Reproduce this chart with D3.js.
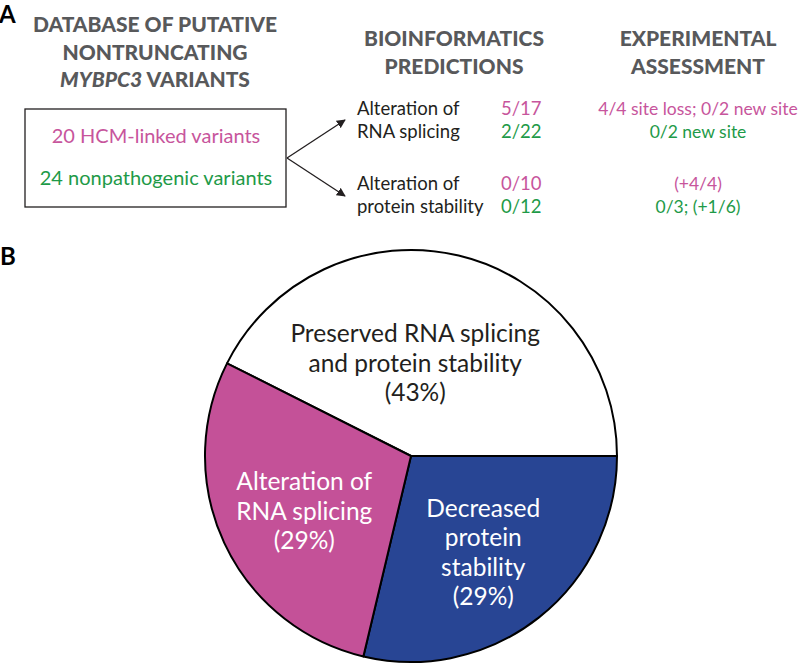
<!DOCTYPE html>
<html>
<head>
<meta charset="utf-8">
<script src="https://cdn.jsdelivr.net/npm/d3@7"></script>
<style>
  body { margin: 0; background: #fff; }
  text { font-family: Lato, "Open Sans", sans-serif; }
</style>
</head>
<body>
<div id="chart"></div>
<script>
// panel A text
var dbHeader = ["DATABASE OF PUTATIVE", "NONTRUNCATING", "MYBPC3| VARIANTS"];
var predHeader = ["BIOINFORMATICS", "PREDICTIONS"];
var expHeader = ["EXPERIMENTAL", "ASSESSMENT"];
var groups = ["20 HCM-linked variants", "24 nonpathogenic variants"];
var predictions = [["Alteration of", "RNA splicing"], ["Alteration of", "protein stability"]];
var hcmPredicted = ["5/17", "0/10"];
var nonpathPredicted = ["2/22", "0/12"];
var hcmExperimental = ["4/4 site loss; 0/2 new site", "(+4/4)"];
var nonpathExperimental = ["0/2 new site", "0/3; (+1/6)"];

// panel B pie
var pieCategories = [
  ["Preserved RNA splicing", "and protein stability"],
  ["Decreased", "protein", "stability"],
  ["Alteration of", "RNA splicing"]
];
var pieValues = [43, 29, 29];
var pieColors = ["#ffffff", "#284594", "#c45198"];
var pieTextColors = ["#231f20", "#ffffff", "#ffffff"];

var width = 799, height = 666;
var pink = "#c7559c", green = "#1e9a48", grey = "#58595b", ink = "#231f20";

var svg = d3.select("#chart").append("svg")
  .attr("width", width)
  .attr("height", height);

svg.append("defs").append("marker")
  .attr("id", "arrow")
  .attr("viewBox", "0 0 10 10")
  .attr("refX", 9).attr("refY", 5)
  .attr("markerWidth", 9).attr("markerHeight", 9)
  .attr("markerUnits", "userSpaceOnUse")
  .attr("orient", "auto")
  .append("path")
  .attr("d", "M0,0 L10,5 L0,10 z")
  .attr("fill", ink);

// panel letters
svg.append("text").attr("x", -1).attr("y", 23)
  .attr("font-family", "Arial, 'Liberation Sans', sans-serif")
  .attr("font-weight", 700).attr("font-size", 24).attr("fill", "#000").text("A");
svg.append("text").attr("x", 0).attr("y", 265)
  .attr("font-family", "Arial, 'Liberation Sans', sans-serif")
  .attr("font-weight", 700).attr("font-size", 24).attr("fill", "#000").text("B");

// headers
function header(lines, cx, y0) {
  var t = svg.append("text")
    .attr("text-anchor", "middle")
    .attr("font-weight", 900)
    .attr("font-size", 21)
    .attr("fill", grey);
  lines.forEach(function(l, i) {
    var ts = t.append("tspan").attr("x", cx).attr("y", y0 + i * 27.5);
    var parts = l.split("|");
    if (parts.length > 1) {
      ts.append("tspan").attr("font-style", "italic").text(parts[0]);
      ts.append("tspan").text(parts[1]);
    } else {
      ts.text(l);
    }
  });
}
header(dbHeader, 155, 32);
header(predHeader, 454, 46);
header(expHeader, 698, 46);

// variant box
svg.append("rect")
  .attr("x", 25).attr("y", 109)
  .attr("width", 261).attr("height", 98)
  .attr("fill", "none").attr("stroke", ink).attr("stroke-width", 1.3);

svg.selectAll(".grp").data(groups).enter().append("text")
  .attr("class", "grp")
  .attr("x", 156)
  .attr("y", function(d, i) { return 143 + i * 42; })
  .attr("text-anchor", "middle")
  .attr("font-size", 20)
  .attr("fill", function(d, i) { return i === 0 ? pink : green; })
  .text(function(d) { return d; });

// arrows
var rowY = [115, 190];
svg.selectAll(".arr").data(rowY).enter().append("line")
  .attr("class", "arr")
  .attr("x1", 287).attr("y1", 158)
  .attr("x2", 345)
  .attr("y2", function(d, i) { return i === 0 ? 120 : 196; })
  .attr("stroke", ink).attr("stroke-width", 1.3)
  .attr("marker-end", "url(#arrow)");

// prediction rows
predictions.forEach(function(p, i) {
  var y = rowY[i];
  var t = svg.append("text").attr("font-size", 18.5).attr("fill", ink);
  p.forEach(function(l, j) {
    t.append("tspan").attr("x", 357).attr("y", y + j * 23).text(l);
  });
  svg.append("text").attr("x", 501).attr("y", y)
    .attr("font-size", 18.5).attr("fill", pink).text(hcmPredicted[i]);
  svg.append("text").attr("x", 501).attr("y", y + 23)
    .attr("font-size", 18.5).attr("fill", green).text(nonpathPredicted[i]);
  svg.append("text").attr("x", 698).attr("y", y).attr("text-anchor", "middle")
    .attr("font-size", 17.5).attr("fill", pink).text(hcmExperimental[i]);
  svg.append("text").attr("x", 698).attr("y", y + 23).attr("text-anchor", "middle")
    .attr("font-size", 17.5).attr("fill", green).text(nonpathExperimental[i]);
});

// pie
var cx = 411, cy = 456, R = 206;
var total = d3.sum(pieValues);
var start = Math.PI / 2 - 2 * Math.PI * pieValues[0] / total;
var pie = d3.pie().sort(null).startAngle(start).endAngle(start + 2 * Math.PI);
var arc = d3.arc().innerRadius(0).outerRadius(R);
var labelArc = d3.arc().innerRadius(R * 0.55).outerRadius(R * 0.55);

var g = svg.append("g").attr("transform", "translate(" + cx + "," + cy + ")");
var slices = pie(pieValues);

g.selectAll("path").data(slices).enter().append("path")
  .attr("d", arc)
  .attr("fill", function(d, i) { return pieColors[i]; })
  .attr("stroke", "#000")
  .attr("stroke-width", 2)
  .attr("stroke-linejoin", "round");

var nudge = [[-22, 18], [2, 8], [-4, 8]];
g.selectAll(".lbl").data(slices).enter().append("text")
  .attr("class", "lbl")
  .attr("text-anchor", "middle")
  .attr("font-size", 24.5)
  .attr("fill", function(d, i) { return pieTextColors[i]; })
  .each(function(d, i) {
    var c = labelArc.centroid(d);
    var lines = pieCategories[i].concat(["(" + pieValues[i] + "%)"]);
    var lh = 29.5;
    var y0 = c[1] + nudge[i][1] - (lines.length - 1) * lh / 2 + 8;
    var t = d3.select(this);
    lines.forEach(function(l, j) {
      t.append("tspan").attr("x", c[0] + nudge[i][0]).attr("y", y0 + j * lh).text(l);
    });
  });
</script>
</body>
</html>
